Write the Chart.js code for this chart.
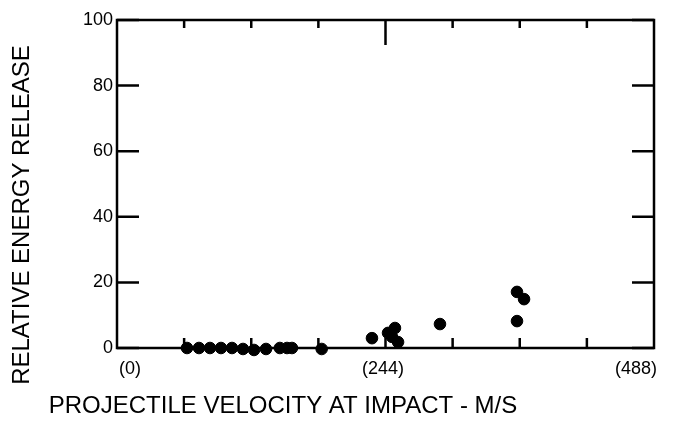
<!DOCTYPE html>
<html>
<head>
<meta charset="utf-8">
<script src="https://cdn.jsdelivr.net/npm/chart.js@4"></script>
<style>
  body { margin: 0; background: #fff; }
  #wrap { width: 681px; height: 432px; }
</style>
</head>
<body>
<div id="wrap"><canvas id="energyChart" width="681" height="432"></canvas></div>
<script>
// velocity at impact (m/s) and relative energy release
var velocity = [63.6, 74.5, 84.5, 94.5, 104.5, 114.5, 124.5, 135.4, 148, 154.5, 159, 186,
                231.7, 246.3, 252.6, 249.9, 255.4, 293.5, 363.5, 369.9, 363.5];
var energy = [0, 0, 0, 0, 0, -0.3, -0.6, -0.3, 0, 0, 0, -0.3,
              3.0, 4.6, 6.1, 3.4, 1.8, 7.3, 17.1, 14.9, 8.2];

var xLabels = [0, 244, 488];
var xTickMarks = [61, 122, 183, 244, 305, 366, 427];
var yTicks = [0, 20, 40, 60, 80, 100];
var xTitle = 'PROJECTILE VELOCITY AT IMPACT - M/S';
var yTitle = 'RELATIVE ENERGY RELEASE';

var FONT = '"Liberation Sans", Arial, sans-serif';

var points = velocity.map(function(v, i) { return {x: v, y: energy[i]}; });

// frame, inward tick marks and axis titles
var framePlugin = {
    id: 'frame',
    beforeDatasetsDraw: function(chart) {
        var ctx = chart.ctx, a = chart.chartArea;
        var x = chart.scales.x, y = chart.scales.y;
        ctx.save();
        ctx.strokeStyle = '#000';
        ctx.lineWidth = 2.5;
        ctx.strokeRect(a.left, a.top, a.right - a.left, a.bottom - a.top);
        ctx.beginPath();
        yTicks.forEach(function(v) {
            var py = y.getPixelForValue(v);
            ctx.moveTo(a.left, py); ctx.lineTo(a.left + 22, py);
            ctx.moveTo(a.right, py); ctx.lineTo(a.right - 22, py);
        });
        xTickMarks.forEach(function(v) {
            var px = x.getPixelForValue(v);
            ctx.moveTo(px, a.top); ctx.lineTo(px, a.top + (v === 244 ? 25 : 8));
            ctx.moveTo(px, a.bottom); ctx.lineTo(px, a.bottom - 10);
        });
        ctx.stroke();
        ctx.restore();
    },
    afterDraw: function(chart) {
        var ctx = chart.ctx;
        ctx.save();
        ctx.fillStyle = '#000';
        ctx.font = '24px ' + FONT;
        ctx.textAlign = 'center';
        ctx.textBaseline = 'middle';
        ctx.fillText(xTitle, 283, 406);
        ctx.translate(22, 215);
        ctx.rotate(-Math.PI / 2);
        ctx.fillText(yTitle, 0, 0);
        ctx.restore();
    }
};

var ctx = document.getElementById('energyChart').getContext('2d');
var chart = new Chart(ctx, {
    type: 'scatter',
    data: {
        datasets: [{
            data: points,
            backgroundColor: '#000',
            borderColor: '#000',
            pointRadius: 5.8,
            pointHoverRadius: 5.8,
            clip: false
        }]
    },
    options: {
        responsive: false,
        animation: false,
        devicePixelRatio: 1,
        layout: { padding: 0 },
        plugins: { legend: { display: false }, tooltip: { enabled: false } },
        scales: {
            x: { type: 'linear', min: 0, max: 488, display: false },
            y: {
                type: 'linear', position: 'left', min: 0, max: 100,
                afterBuildTicks: function(s) { s.ticks = yTicks.map(function(v) { return {value: v}; }); },
                ticks: { color: '#000', font: { family: FONT, size: 18 }, padding: 4 },
                grid: { display: false, drawTicks: false },
                border: { display: false },
                afterFit: function(s) { s.width = 117; }
            },
            yr: {
                type: 'linear', position: 'right', min: 0, max: 100,
                ticks: { display: false },
                grid: { display: false, drawTicks: false },
                border: { display: false },
                afterFit: function(s) { s.width = 27; }
            },
            xt: {
                type: 'linear', position: 'top', min: 0, max: 488,
                ticks: { display: false },
                grid: { display: false, drawTicks: false },
                border: { display: false },
                afterFit: function(s) { s.height = 20; }
            },
            xl: {
                type: 'linear', position: 'bottom', min: -12.5, max: 505.3,
                afterBuildTicks: function(s) { s.ticks = xLabels.map(function(v) { return {value: v}; }); },
                ticks: {
                    color: '#000', font: { family: FONT, size: 18 }, padding: 10,
                    maxRotation: 0, autoSkip: false,
                    callback: function(v) { return '(' + v + ')'; }
                },
                grid: { display: false, drawTicks: false },
                border: { display: false },
                afterFit: function(s) { s.height = 84; }
            }
        }
    },
    plugins: [framePlugin]
});
</script>
</body>
</html>
